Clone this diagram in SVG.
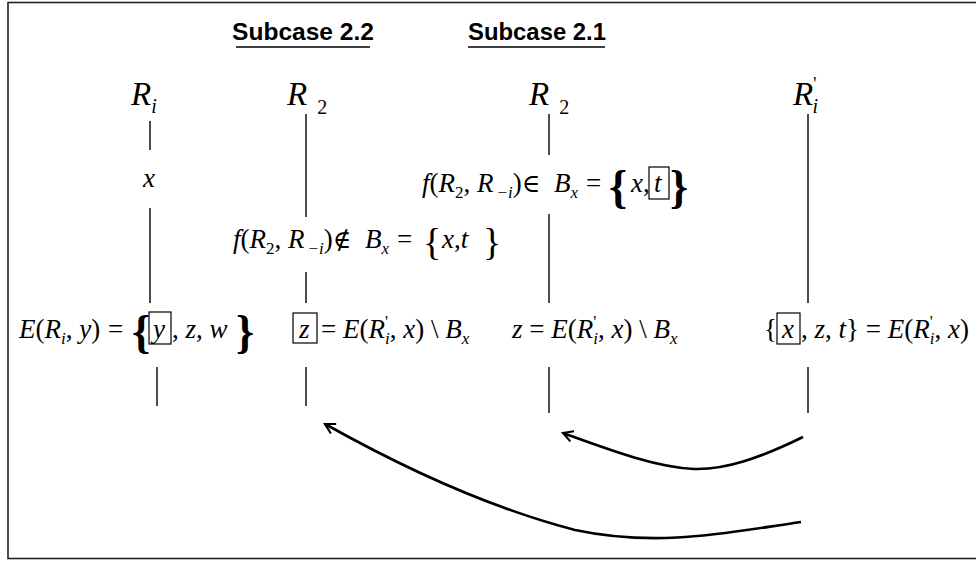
<svg xmlns="http://www.w3.org/2000/svg" width="976" height="561" viewBox="0 0 976 561">
<defs>
<style>
.m{font-family:"Liberation Serif","Times New Roman",serif;font-style:italic;font-size:27px;fill:#000}
.n{font-style:normal}
.s{font-size:17px}
.sym{font-family:"DejaVu Serif",serif;font-style:normal;font-size:25px}
.lbl{font-family:"Liberation Serif","Times New Roman",serif;font-style:italic;font-size:33px;fill:#000}
.br{font-family:"Liberation Serif","Times New Roman",serif;font-style:normal;fill:#000}
.title{font-family:"Liberation Sans",Arial,sans-serif;font-weight:bold;font-size:24px;fill:#000}
.ln{stroke:#000;stroke-width:1.4;fill:none}
.bx{stroke:#000;stroke-width:1.2;fill:none}
.arr{stroke:#000;stroke-width:2.6;fill:none;marker-end:url(#ah)}
</style>
<marker id="ah" viewBox="0 0 12 12" refX="10" refY="6" markerWidth="5" markerHeight="5" orient="auto" markerUnits="strokeWidth">
<path d="M1,1 L10,6 L1,11" fill="none" stroke="#000" stroke-width="2"/>
</marker>
</defs>
<rect x="8" y="2.5" width="980" height="556" fill="#fff" stroke="#222" stroke-width="1.6"/>

<g id="titles">
<text class="title" x="232" y="40" textLength="142" lengthAdjust="spacingAndGlyphs">Subcase 2.2</text>
<line class="ln" x1="236" y1="47" x2="370" y2="47"/>
<text class="title" x="468" y="40" textLength="138" lengthAdjust="spacingAndGlyphs">Subcase 2.1</text>
<line class="ln" x1="468" y1="47" x2="605" y2="47"/>
</g>

<g id="connectors">
<line class="ln" x1="150" y1="121" x2="150" y2="150"/>
<line class="ln" x1="150" y1="208" x2="150" y2="303"/>
<line class="ln" x1="157" y1="367" x2="157" y2="406"/>
<line class="ln" x1="306" y1="114" x2="306" y2="217"/>
<line class="ln" x1="306" y1="272" x2="306" y2="303"/>
<line class="ln" x1="306" y1="367" x2="306" y2="406"/>
<line class="ln" x1="549" y1="114" x2="549" y2="155"/>
<line class="ln" x1="549" y1="214" x2="549" y2="303"/>
<line class="ln" x1="549" y1="367" x2="549" y2="413"/>
<line class="ln" x1="808" y1="114" x2="808" y2="303"/>
<line class="ln" x1="808" y1="367" x2="808" y2="413"/>
<path class="arr" d="M803,437 C760,458 725,470 694,469 C655,467 610,450 563,433"/>
<path class="arr" d="M801,522 C730,532 660,548 575,530 C490,508 400,466 325,424"/>
</g>

<g id="col-Ri">
<text class="lbl" x="131" y="105">R<tspan font-size="20" dy="8">i</tspan></text>
<text class="m" x="143" y="187">x</text>
<text class="m" x="19" y="338">E<tspan class="n">(</tspan>R<tspan class="s" dy="6">i</tspan><tspan class="n" dy="-6">, </tspan>y<tspan class="n">)</tspan><tspan class="n" x="108">=</tspan></text>
<text class="br" x="132" y="347" font-size="46" font-weight="bold">{</text>
<rect class="bx" x="149" y="312" width="22" height="32"/>
<text class="m" x="153" y="338">y</text>
<text class="m" x="172" y="338"><tspan class="n">,</tspan> z<tspan class="n">,</tspan> w</text>
<text class="br" x="236" y="347" font-size="46" font-weight="bold">}</text>
</g>

<g id="col-R2-sub22">
<text class="lbl" x="287" y="105">R<tspan class="n" font-size="20" dx="10" dy="9">2</tspan></text>
<text class="m" x="233" y="248">f<tspan class="n">(</tspan>R<tspan class="s n" dy="6">2</tspan><tspan class="n" dy="-6">, </tspan>R<tspan class="s" dx="3" dy="6">−i</tspan><tspan class="n" dy="-6">)</tspan><tspan class="sym">∉</tspan><tspan x="365">B</tspan><tspan class="s" dy="6">x</tspan><tspan class="n" x="397" dy="-6">=</tspan></text>
<text class="br" x="423" y="255" font-size="38">{</text>
<text class="m" x="442" y="248">x<tspan class="n">,</tspan>t</text>
<text class="br" x="483" y="255" font-size="38">}</text>
<rect class="bx" x="293" y="313" width="24" height="30"/>
<text class="m" x="299" y="338">z</text>
<text class="m" x="321" y="338"><tspan class="n">= </tspan>E<tspan class="n">(</tspan>R<tspan class="s n" dy="-11">'</tspan><tspan class="s" dx="-3" dy="17">i</tspan><tspan class="n" dy="-6">, </tspan>x<tspan class="n">) \ </tspan>B<tspan class="s" dy="6">x</tspan></text>
</g>

<g id="col-R2-sub21">
<text class="lbl" x="529" y="105">R<tspan class="n" font-size="20" dx="10" dy="9">2</tspan></text>
<text class="m" x="422" y="192">f<tspan class="n">(</tspan>R<tspan class="s n" dy="6">2</tspan><tspan class="n" dy="-6">, </tspan>R<tspan class="s" dx="3" dy="6">−i</tspan><tspan class="n" dy="-6">)</tspan><tspan class="sym">∈</tspan><tspan x="554">B</tspan><tspan class="s" dy="6">x</tspan><tspan class="n" x="586" dy="-6">=</tspan></text>
<text class="br" x="609" y="202" font-size="46" font-weight="bold">{</text>
<text class="m" x="631" y="192">x<tspan class="n">,</tspan></text>
<rect class="bx" x="649" y="167" width="20" height="32"/>
<text class="m" x="654" y="192">t</text>
<text class="br" x="670" y="202" font-size="46" font-weight="bold">}</text>
<text class="m" x="512" y="338">z<tspan class="n"> = </tspan>E<tspan class="n">(</tspan>R<tspan class="s n" dy="-11">'</tspan><tspan class="s" dx="-3" dy="17">i</tspan><tspan class="n" dy="-6">, </tspan>x<tspan class="n">) \ </tspan>B<tspan class="s" dy="6">x</tspan></text>
</g>

<g id="col-Ri-prime">
<text class="lbl" x="793" y="105">R<tspan class="n" font-size="18" dy="-15">'</tspan><tspan font-size="20" dx="-4" dy="23">i</tspan></text>
<text class="m" x="764" y="338"><tspan class="n">{</tspan></text>
<rect class="bx" x="777" y="313" width="23" height="31"/>
<text class="m" x="782" y="338">x</text>
<text class="m" x="801" y="338"><tspan class="n">,</tspan> z<tspan class="n">,</tspan> t<tspan class="n">} = </tspan>E<tspan class="n">(</tspan>R<tspan class="s n" dy="-11">'</tspan><tspan class="s" dx="-3" dy="17">i</tspan><tspan class="n" dy="-6">, </tspan>x<tspan class="n">)</tspan></text>
</g>
</svg>
